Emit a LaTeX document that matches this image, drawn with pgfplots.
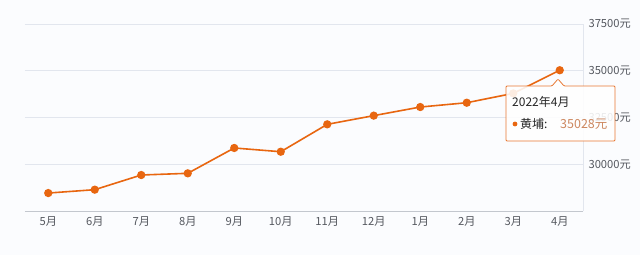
\documentclass[border=0pt]{standalone}
\usepackage{fontspec}
\setmainfont{Noto Sans CJK SC}
\usepackage{pgfplots}
\pgfplotsset{compat=1.18}
\definecolor{bgcol}{RGB}{251,252,254}
\definecolor{gridcol}{RGB}{226,230,238}
\definecolor{axcol}{RGB}{195,199,206}
\definecolor{linecol}{RGB}{232,102,16}
\definecolor{labcol}{RGB}{85,88,95}
\definecolor{valcol}{RGB}{205,135,95}
\definecolor{tipborder}{RGB}{232,120,50}
\begin{document}
\begin{tikzpicture}[x=1pt,y=1pt]
\useasboundingbox (0,0) rectangle (640,255);
\fill[bgcol] (0,0) rectangle (640,255);
\begin{axis}[
  at={(25pt,44pt)}, anchor=south west,
  scale only axis, width=558pt, height=187pt,
  xmin=-0.5, xmax=11.5, ymin=27500, ymax=37500,
  scaled y ticks=false,
  xtick={0,1,2,3,4,5,6,7,8,9,10,11},
  xticklabels={5月,6月,7月,8月,9月,10月,11月,12月,1月,2月,3月,4月},
  ytick={30000,32500,35000,37500},
  yticklabels={30000元,32500元,35000元,37500元},
  axis x line*=bottom, axis y line*=right,
  axis line style={-},
  x axis line style={draw=axcol, line width=0.8pt},
  y axis line style={draw=gridcol, line width=0.8pt},
  ymajorgrids, grid style={draw=gridcol, line width=0.8pt},
  major tick length=0pt,
  tick style={draw=none},
  xticklabel style={font=\fontsize{11.2}{13}\selectfont, text=labcol, yshift=-2pt},
  yticklabel style={font=\fontsize{11.2}{13}\selectfont, text=labcol, anchor=west, xshift=2pt},
  clip=false,
]
\addplot[color=linecol, line width=1.6pt, mark=*, mark size=3.3pt, mark options={fill=linecol, draw=linecol}]
coordinates {
(0,28460) (1,28640) (2,29425) (3,29515) (4,30870) (5,30670)
(6,32135) (7,32600) (8,33060) (9,33290) (10,33790) (11,35028)
};
\end{axis}
% tooltip
\begin{scope}
\fill[white, opacity=0.88] (506,114) -- (506,169) -- (552,169) -- (558,176) -- (564,169) -- (615,169) -- (615,114) -- cycle;
\draw[tipborder, line width=0.8pt, rounded corners=1pt] (506,114) -- (506,169) -- (552,169) -- (558,176) -- (564,169) -- (615,169) -- (615,114) -- cycle;
\node[anchor=west, inner sep=0pt, font=\fontsize{12}{14}\selectfont, text=black!85] at (512,153) {2022年4月};
\fill[linecol] (515,131) circle (2.4pt);
\node[anchor=west, inner sep=0pt, font=\fontsize{12}{14}\selectfont, text=black!85] at (520,131) {黄埔:};
\node[anchor=west, inner sep=0pt, font=\fontsize{12.5}{14}\selectfont, text=valcol] at (560,131) {35028元};
\end{scope}
\end{tikzpicture}
\end{document}
